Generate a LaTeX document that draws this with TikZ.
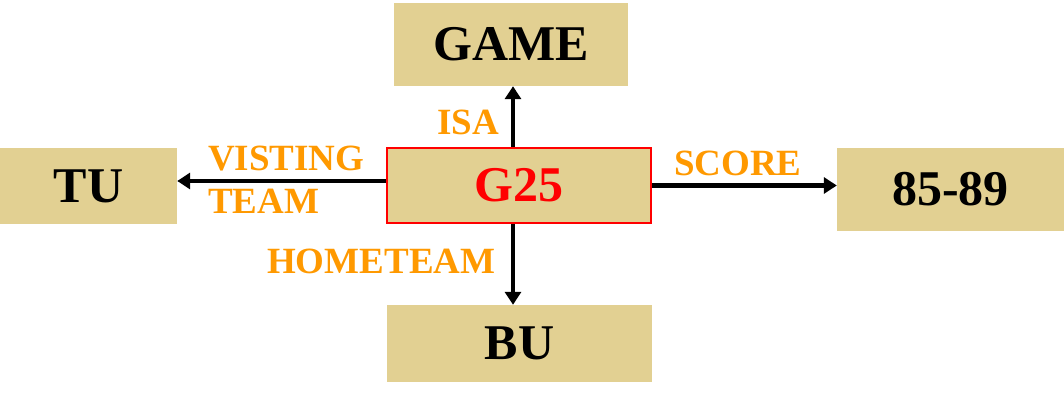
\documentclass[tikz,border=0pt]{standalone}
\usepackage{fontspec}
\setmainfont{Liberation Serif}
\usetikzlibrary{arrows.meta, positioning, calc}
\definecolor{tanbox}{RGB}{226,208,146}
\definecolor{oranyerel}{RGB}{255,153,0}
\definecolor{merahnode}{RGB}{255,0,0}

\begin{document}
\begin{tikzpicture}[x=1pt, y=1pt,
        entity/.style={fill=tanbox, inner sep=0pt, font=\fontsize{50}{60}\selectfont\bfseries},
        rel/.style={text=oranyerel, inner sep=0pt, align=left, font=\fontsize{37}{43}\selectfont\bfseries},
        link/.style={line width=4.5pt, -{Triangle[length=13pt, width=16pt]}}]
        \useasboundingbox (0,0) rectangle (1064,404);
        % central node and its four neighbours
        \node[entity, draw=merahnode, line width=2pt, text=merahnode, minimum width=264pt, minimum height=75pt] (g25) at (519,218.5) {G25};
        \node[entity, minimum width=234pt, minimum height=83pt] (game) at (511,359.5) {GAME};
        \node[entity, minimum width=177pt, minimum height=76pt] (tu) at (88.5,218) {TU};
        \node[entity, minimum width=227pt, minimum height=83pt] (res) at (950.5,214.5) {85-89};
        \node[entity, minimum width=265pt, minimum height=77pt] (bu) at (519.5,60.5) {BU};
        % connectors
        \draw[link] ([xshift=-6pt]g25.north) -- ([xshift=-6pt]g25.north |- game.south);
        \draw[link] ([yshift=4.5pt]g25.west) -- ([yshift=4.5pt]g25.west -| tu.east);
        \draw[link] (g25.east) -- (g25.east -| res.west);
        \draw[link] ([xshift=-6pt]g25.south) -- ([xshift=-6pt]g25.south |- bu.north);
        % relation labels
        \node[rel, anchor=base west] (isa) at (437,269) {ISA};
        \node[rel, anchor=base west] (visit) at (208,190) {VISTING\\TEAM};
        \node[rel, anchor=base west] (score) at (674,228) {SCORE};
        \node[rel, anchor=base west] (home) at (267,130) {HOMETEAM};
    \end{tikzpicture}
\end{document}
